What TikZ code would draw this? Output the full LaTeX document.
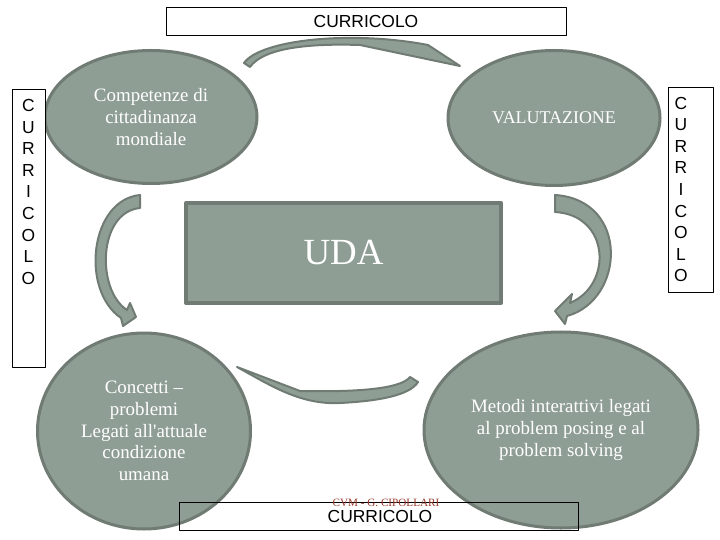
\documentclass[tikz,border=0pt]{standalone}
\usepackage{fontspec}
\setmainfont{Liberation Serif}[Ligatures=TeXOff]
\newfontfamily\arialfont{Liberation Sans}
\usetikzlibrary{shapes.geometric}
\definecolor{bubblefill}{HTML}{8F9E95}
\definecolor{bubbledraw}{HTML}{6F7B73}
\definecolor{cvmred}{HTML}{9A3A2C}
\begin{document}
\begin{tikzpicture}[x=1bp,y=-1bp,line join=round,
  bubble/.style={ellipse,fill=bubblefill,draw=bubbledraw,line width=3bp,text=white,
    align=center,inner sep=0pt,font=\fontsize{19}{21.8}\selectfont},
  framebox/.style={draw=black,line width=0.9bp},
  bendarrow/.style={fill=bubblefill,draw=bubbledraw,line width=2bp},
  sanslabel/.style={font=\arialfont\fontsize{17.5}{20}\selectfont,inner sep=0pt}]
  \useasboundingbox (0,0) rectangle (720,540);
  % bubbles
  \node[bubble,minimum width=212bp,minimum height=133bp] (comp) at (151,117) {Competenze di\\cittadinanza\\mondiale};
  \node[bubble,minimum width=212bp,minimum height=135bp,font=\fontsize{18}{21}\selectfont] (valu) at (554,118) {VALUTAZIONE};
  \node[bubble,minimum width=213bp,minimum height=196bp] (conc) at (144,431) {Concetti –\\problemi\\Legati all'attuale\\condizione\\umana};
  \node[bubble,minimum width=274bp,minimum height=196bp] (meto) at (561,430) {Metodi interattivi legati\\al problem posing e al\\problem solving};
  % centre box
  \node[draw=bubbledraw,fill=bubblefill,line width=4bp,minimum width=315bp,minimum height=100bp,
    text=white,font=\fontsize{37}{40}\selectfont] (uda) at (343.5,253) {UDA};
  % curved arrows
  \draw[bendarrow] (244,63) .. controls (260,40) and (350,30) .. (428,45) -- (460,66)
    -- (360,45) .. controls (300,43) and (262,50) .. (250,67) -- cycle;
  \draw[bendarrow] (140,195) .. controls (90,200) and (80,290) .. (121,318) -- (123,326) -- (136,317)
    -- (130,303) -- (127,310) .. controls (96,290) and (98,212) .. (140,208) -- cycle;
  \draw[bendarrow] (555,195) .. controls (630,200) and (625,300) .. (567,316) -- (565,324) -- (555,311)
    -- (572,294) -- (570,303) .. controls (613,285) and (610,215) .. (555,212) -- cycle;
  \draw[bendarrow] (237,367) .. controls (270,385) and (300,405) .. (340,403)
    .. controls (380,401) and (410,395) .. (418,382) -- (410,377)
    .. controls (400,390) and (350,392) .. (300,391) -- cycle;
  % frames
  \draw[framebox,fill=white] (166,7) rectangle (566,35);
  \node[sanslabel] (toplabel) at (366,21.5) {CURRICOLO};
  \draw[framebox,fill=white] (12,89) rectangle (45,367);
  \draw[framebox,fill=white] (668,87) rectangle (713,292);
  \foreach \ch [count=\i] in {C,U,R,R,I,C,O,L,O} {
    \node[sanslabel] (left\i) at (28.5,{84+21.6*\i}) {\ch};
    \node[sanslabel] (right\i) at (681,{81.5+21.6*\i}) {\ch};
  }
  \draw[framebox] (179,502) rectangle (578,530);
  \node[sanslabel] (botlabel) at (380,516.5) {CURRICOLO};
  \node[text=cvmred,font=\fontsize{11.2}{12}\selectfont,inner sep=0pt] (cvm) at (386,503) {CVM - G. CIPOLLARI};
\end{tikzpicture}
\end{document}
